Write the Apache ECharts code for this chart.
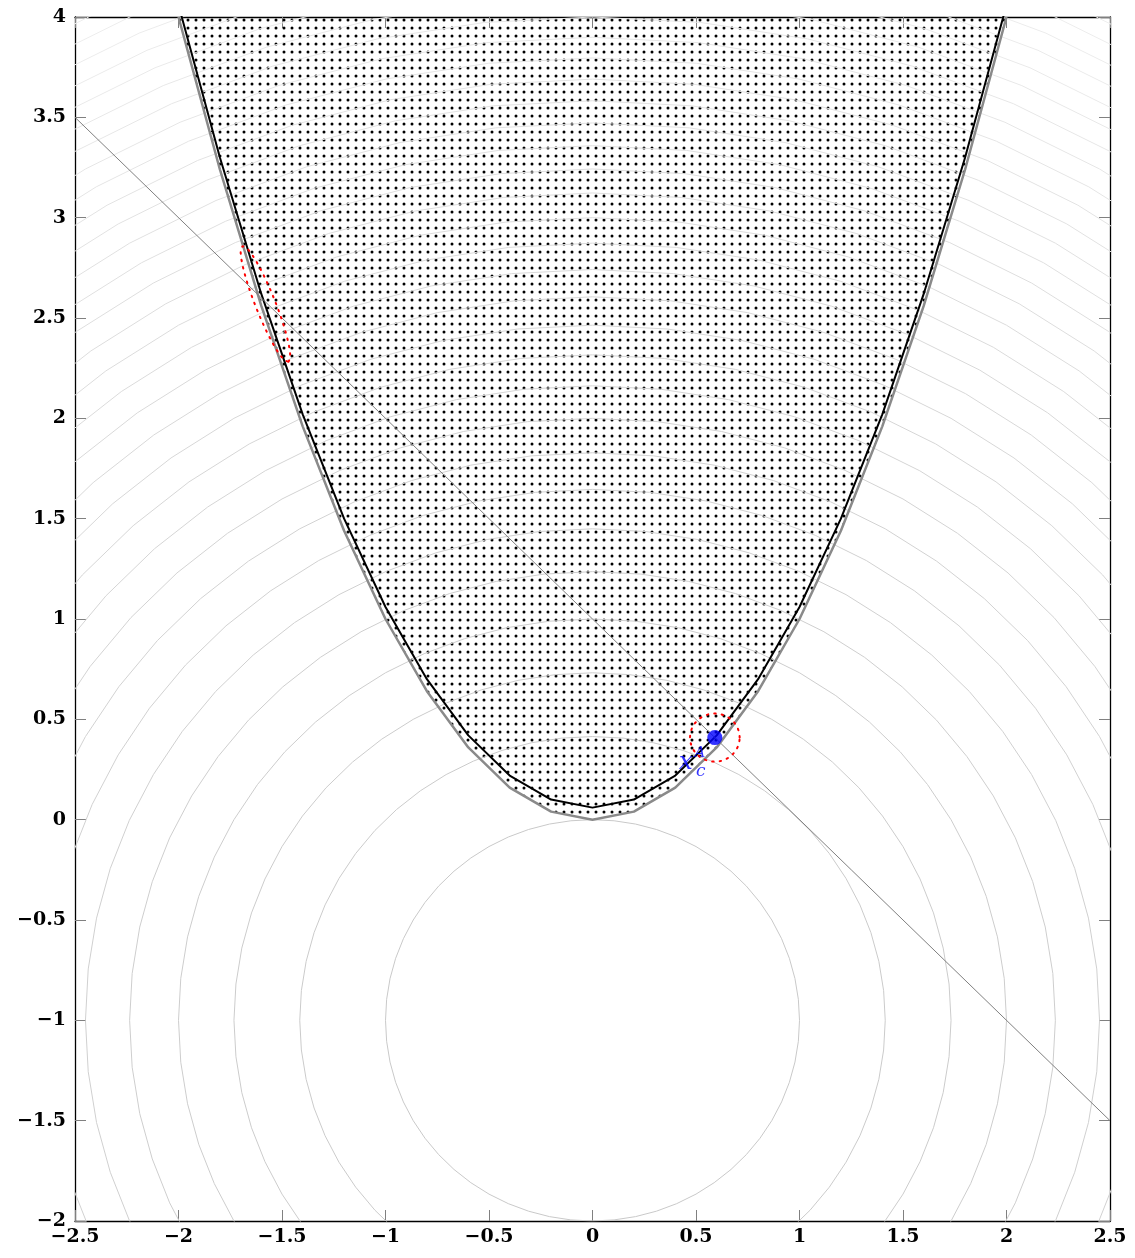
<!DOCTYPE html>
<html>
<head>
<meta charset="utf-8">
<script src="https://cdn.jsdelivr.net/npm/echarts@6/dist/echarts.min.js"></script>
<style>
html,body{margin:0;padding:0;background:#fff;}
#chart{width:1135px;height:1258px;}
</style>
</head>
<body>
<div id="chart"></div>
<script>
// ---- data ----
const xTicks = [-2.5, -2, -1.5, -1, -0.5, 0, 0.5, 1, 1.5, 2, 2.5];
const yTicks = [-2, -1.5, -1, -0.5, 0, 0.5, 1, 1.5, 2, 2.5, 3, 3.5, 4];
// constraint boundary y = x^2 (grey) and shifted boundary (black)
const curveX = [-2, -1.8, -1.6, -1.4, -1.2, -1, -0.8, -0.6, -0.4, -0.2, 0, 0.2, 0.4, 0.6, 0.8, 1, 1.2, 1.4, 1.6, 1.8, 2];
const greyY  = [4, 3.24, 2.56, 1.96, 1.44, 1, 0.64, 0.36, 0.16, 0.04, 0, 0.04, 0.16, 0.36, 0.64, 1, 1.44, 1.96, 2.56, 3.24, 4];
const blackY = [4.06, 3.30, 2.62, 2.02, 1.50, 1.06, 0.70, 0.42, 0.22, 0.10, 0.06, 0.10, 0.22, 0.42, 0.70, 1.06, 1.50, 2.02, 2.62, 3.30, 4.06];
// contour levels of x^2 + (y+1)^2
const contourCenter = [0, -1];
const contourLevels = [1,2,3,4,5,6,7,8,9,10,11,12,13,14,15,16,17,18,19,20,21,22,23,24,25,26,27,28,29,30,31,32];
// diagonal line y = 1 - x
const diagX = [-2.5, 2.5];
const diagY = [3.5, -1.5];
// solution point
const pointXY = [0.591, 0.409];
const trustRadius = 0.12;
// elongated red region near the left boundary
const ellCenter = [-1.58, 2.57];
const ellMajor = [0.111, -0.288];
const ellMinor = [0.045, 0.018];

// ---- helpers ----
const fmt = v => (Math.abs(v) < 1e-9 ? '0' : String(v).replace('-', '\u2212'));
function zip(xs, ys){ return xs.map((x,i)=>[x, ys[i]]); }
function circlePts(c, r, n){
  const out=[]; for(let i=0;i<=n;i++){const t=2*Math.PI*i/n; out.push([c[0]+r*Math.cos(t), c[1]+r*Math.sin(t)]);} return out;
}
function ellipsePts(c, a, b, n){
  const out=[]; for(let i=0;i<=n;i++){const t=2*Math.PI*i/n; out.push([c[0]+a[0]*Math.cos(t)+b[0]*Math.sin(t), c[1]+a[1]*Math.cos(t)+b[1]*Math.sin(t)]);} return out;
}
// dot pattern
const pat = document.createElement('canvas');
pat.width = 8; pat.height = 8;
const pctx = pat.getContext('2d');
pctx.fillStyle = '#000';
pctx.beginPath(); pctx.arc(4, 4, 1.5, 0, 2*Math.PI); pctx.fill();

const series = [];
contourLevels.forEach((lv, i) => {
  const g = Math.round(255 * (0.79 + 0.15 * i / (contourLevels.length - 1)));
  series.push({
    type: 'line', xAxisIndex: 0, yAxisIndex: 0, showSymbol: false, silent: true,
    data: circlePts(contourCenter, Math.sqrt(lv), 60),
    lineStyle: { color: `rgb(${g},${g},${g})`, width: 1 }
  });
});
series.push({
  type: 'line', showSymbol: false, silent: true,
  data: zip(curveX, greyY),
  lineStyle: { color: '#8a8a8a', width: 2.5 },
  areaStyle: { origin: 'end', color: { image: pat, repeat: 'repeat' }, opacity: 1 }
});
series.push({
  type: 'line', showSymbol: false, silent: true,
  data: zip(curveX, blackY),
  lineStyle: { color: '#000', width: 2 }
});
series.push({
  type: 'line', showSymbol: false, silent: true,
  data: zip(diagX, diagY),
  lineStyle: { color: '#808080', width: 1 }
});
series.push({
  type: 'line', showSymbol: false, silent: true,
  data: circlePts(pointXY, trustRadius, 48),
  lineStyle: { color: '#ff0000', width: 2, type: [1.5, 6], cap: 'round' }
});
series.push({
  type: 'line', showSymbol: false, silent: true,
  data: ellipsePts(ellCenter, ellMajor, ellMinor, 48),
  lineStyle: { color: '#ff0000', width: 2, type: [1.5, 6], cap: 'round' }
});
series.push({
  type: 'scatter', silent: true,
  data: [pointXY],
  symbolSize: 15,
  itemStyle: { color: '#0000ff' },
  z: 5
});
// label x_c with superscript
series.push({
  type: 'scatter', silent: true, symbolSize: 0, z: 6,
  data: [pointXY],
  label: {
    show: true, position: 'inside', offset: [-29, 25],
    formatter: 'x', color: '#0000ff',
    fontFamily: 'DejaVu Serif', fontStyle: 'italic', fontSize: 25
  }
});
series.push({
  type: 'scatter', silent: true, symbolSize: 0, z: 6,
  data: [pointXY],
  label: {
    show: true, position: 'inside', offset: [-15, 16],
    formatter: 'A', color: '#0000ff',
    fontFamily: 'DejaVu Serif', fontStyle: 'italic', fontSize: 15
  }
});
series.push({
  type: 'scatter', silent: true, symbolSize: 0, z: 6,
  data: [pointXY],
  label: {
    show: true, position: 'inside', offset: [-14, 34],
    formatter: 'c', color: '#0000ff',
    fontFamily: 'DejaVu Serif', fontStyle: 'italic', fontSize: 17
  }
});

const labelStyle = { fontFamily: 'DejaVu Serif', fontSize: 19, fontWeight: 'bold', color: '#000', formatter: fmt };
const tickStyle = { show: true, inside: true, length: 11, lineStyle: { color: '#808080', width: 1 } };
const lineStyleAx = { show: true, onZero: false, lineStyle: { color: '#000', width: 1.3 } };

const chart = echarts.init(document.getElementById('chart'), null, { renderer: 'canvas' });
chart.setOption({
  animation: false,
  backgroundColor: '#fff',
  grid: { left: 75, right: 25, top: 17, bottom: 37, containLabel: false },
  xAxis: [
    { type: 'value', position: 'bottom', min: xTicks[0], max: xTicks[xTicks.length-1], interval: 0.5,
      axisLine: lineStyleAx, axisTick: tickStyle, splitLine: { show: false },
      axisLabel: Object.assign({ margin: 7, showMinLabel: true, showMaxLabel: true }, labelStyle) },
    { type: 'value', position: 'top', min: xTicks[0], max: xTicks[xTicks.length-1], interval: 0.5,
      axisLine: lineStyleAx, axisTick: tickStyle, splitLine: { show: false }, axisLabel: { show: false } }
  ],
  yAxis: [
    { type: 'value', position: 'left', min: yTicks[0], max: yTicks[yTicks.length-1], interval: 0.5,
      axisLine: lineStyleAx, axisTick: tickStyle, splitLine: { show: false },
      axisLabel: Object.assign({ margin: 9, showMinLabel: true, showMaxLabel: true, padding: [5,0,0,0] }, labelStyle) },
    { type: 'value', position: 'right', min: yTicks[0], max: yTicks[yTicks.length-1], interval: 0.5,
      axisLine: lineStyleAx, axisTick: tickStyle, splitLine: { show: false }, axisLabel: { show: false } }
  ],
  series: series
});
</script>
</body>
</html>
